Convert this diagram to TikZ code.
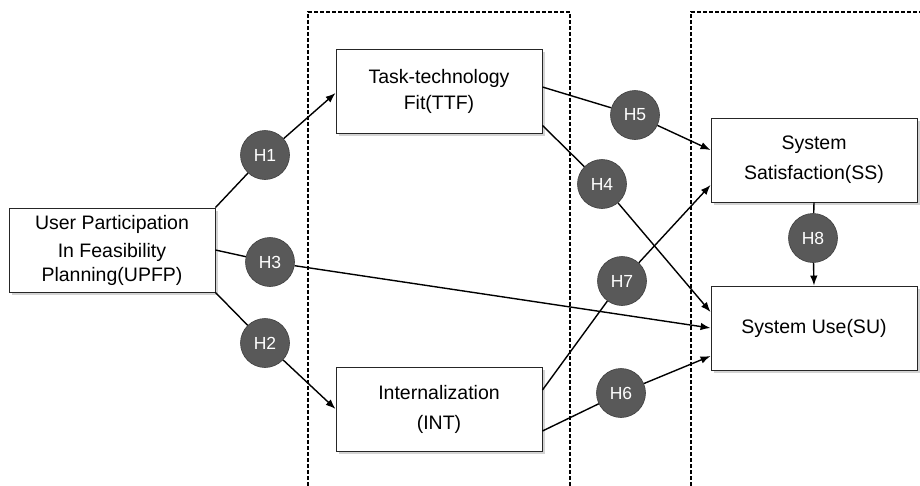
\documentclass[tikz,border=0pt]{standalone}
\usepackage{fontspec}
\setmainfont{Liberation Sans}
\usetikzlibrary{shadows,arrows.meta}
\definecolor{hdark}{HTML}{595959}
\definecolor{hline}{HTML}{404040}
\tikzset{
  box/.style={draw=black!85, fill=white, line width=0.9pt, minimum width=206pt, minimum height=84pt,
    inner sep=0pt, align=center, font=\fontsize{19.5}{24}\selectfont,
    drop shadow={shadow xshift=2.5pt, shadow yshift=-2.5pt, opacity=0.35}},
  hyp/.style={circle, fill=hdark, draw=hline, line width=0.6pt, minimum size=49pt, inner sep=0pt,
    text=white, font=\fontsize{17.5}{20}\selectfont},
  conn/.style={line width=1.4pt, black},
  arr/.style={conn, -{Latex[length=10pt,width=7.5pt]}},
  region/.style={line width=1.2pt, dash pattern=on 4pt off 2pt},
}
\begin{document}
\begin{tikzpicture}[x=1pt,y=-1pt]
\useasboundingbox (0,0) rectangle (920,485);
% dashed regions
\draw[region] (308,486) -- (308,12) -- (570,12) -- (570,486);
\draw[region] (691,486) -- (691,12) -- (925,12);
% boxes
\node[box] (upfp) at (112,250) {\raisebox{-2pt}{User Participation}\\[6pt] In Feasibility\\ Planning(UPFP)};
\node[box] (ttf) at (439,91) {Task-technology\\[2pt] Fit(TTF)};
\node[box] (int) at (439,409) {Internalization\\[6pt] (INT)};
\node[box] (ss) at (814,160) {System\\[6pt] Satisfaction(SS)};
\node[box] (su) at (814,328) {System Use(SU)};
% hypothesis circles
\node[hyp] (h1) at (265,155) {H1};
\node[hyp] (h2) at (265,343) {H2};
\node[hyp] (h3) at (270,262) {H3};
\node[hyp] (h4) at (602,184) {H4};
\node[hyp] (h5) at (635,115) {H5};
\node[hyp] (h6) at (621,393) {H6};
\node[hyp] (h7) at (622,281) {H7};
\node[hyp] (h8) at (813,238) {H8};
% connectors
\draw[conn] (upfp.north east) -- (h1);
\draw[arr] (h1) -- ([yshift=-2pt]ttf.west);
\draw[conn] (upfp.south east) -- (h2);
\draw[arr] (h2) -- (int.west);
\draw[conn] (upfp.east) -- (h3);
\draw[arr] (h3) -- (su.west);
\draw[conn] ([yshift=8pt]ttf.south east) -- (h4);
\draw[arr] (h4) -- ([yshift=16pt]su.west);
\draw[conn] ([yshift=4pt]ttf.east) -- (h5);
\draw[arr] (h5) -- ([yshift=10pt]ss.west);
\draw[conn] ([yshift=-22pt]int.east) -- (h6);
\draw[arr] (h6) -- ([yshift=-28pt]su.west);
\draw[conn] ([yshift=19pt]int.east) -- (h7);
\draw[arr] (h7) -- ([yshift=-25pt]ss.west);
\draw[conn] (ss.south) -- (h8);
\draw[arr] (h8) -- (su.north);
\end{tikzpicture}
\end{document}
